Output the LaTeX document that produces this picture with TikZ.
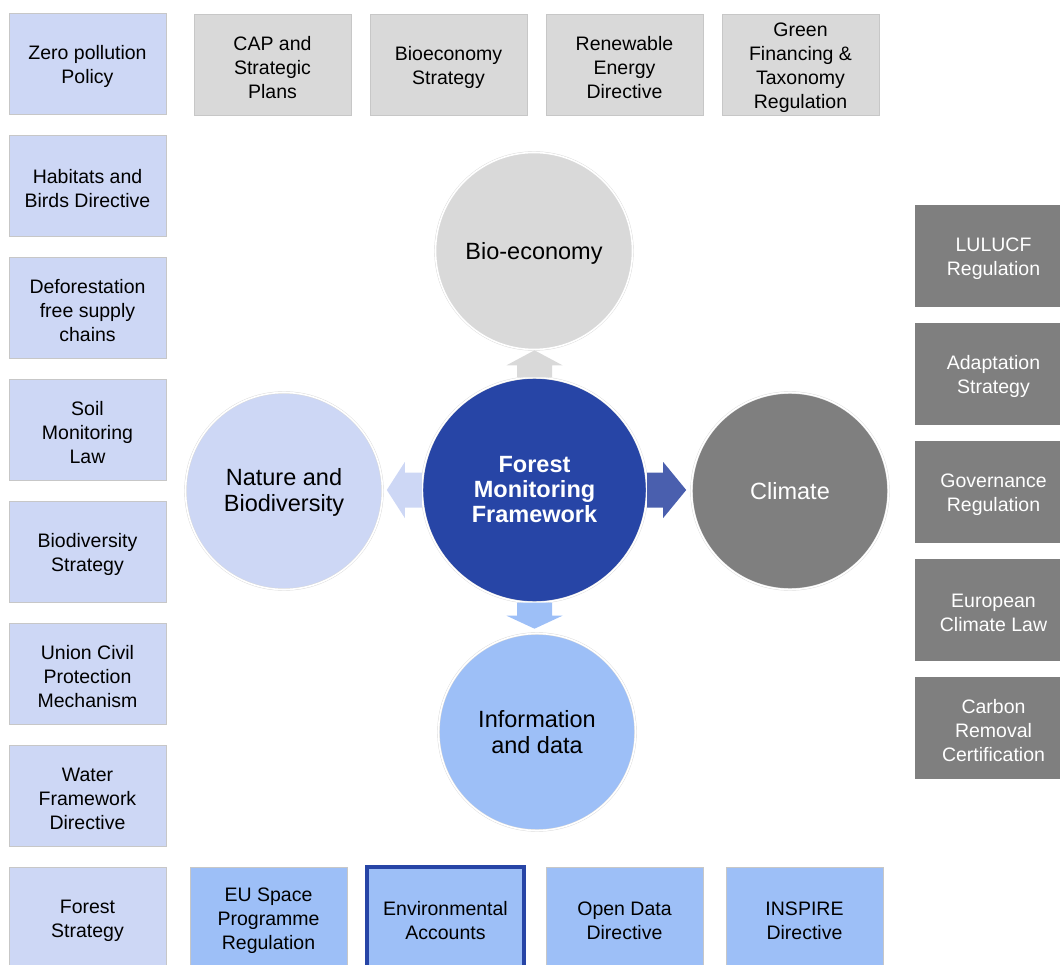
\documentclass[tikz,border=0pt]{standalone}
\usepackage{fontspec}
\setmainfont{Liberation Sans}

\definecolor{paleblue}{HTML}{CDD7F5}
\definecolor{skyblue}{HTML}{9DBFF7}
\definecolor{royalblue}{HTML}{2745A6}
\definecolor{arrowblue}{HTML}{4A5FAE}
\definecolor{palegrey}{HTML}{D9D9D9}
\definecolor{midgrey}{HTML}{7F7F7F}

% pushes the first line down a little
\newcommand{\tstrut}{\rule{0pt}{19.5pt}}

% block arrow: shaft length, head length, colour
\tikzset{
	pics/blockarrow/.style n args={3}{code={
		\fill[#3] (0,-17.5) -- (#1,-17.5) -- (#1,-28) -- (#1+#2,0)
			-- (#1,28) -- (#1,17.5) -- (0,17.5) -- cycle;
	}}
}

\begin{document}
\begin{tikzpicture}[x=1pt, y=-1pt,
	box/.style={draw=black!22, line width=0.6pt, minimum width=157pt,
		minimum height=101pt, inner sep=0pt, align=center,
		font=\fontsize{19.5}{24}\selectfont},
	hub/.style={circle, draw=black!15, double=white, double distance=1.6pt,
		minimum size=197pt, inner sep=0pt, align=center,
		font=\fontsize{23.5}{26.5}\selectfont}]
	\useasboundingbox (0,0) rectangle (1060,965);
	\clip (0,0) rectangle (1060,965);

	% nature and biodiversity column
	\node[box, fill=paleblue] (zero) at (87.5, 63.5) {\tstrut Zero pollution\\Policy};
	\node[box, fill=paleblue] (habitats) at (87.5, 185.5) {\tstrut Habitats and\\Birds Directive};
	\node[box, fill=paleblue] (deforest) at (87.5, 307.5) {\tstrut Deforestation\\free supply\\chains};
	\node[box, fill=paleblue] (soil) at (87.5, 429.5) {\tstrut Soil\\Monitoring\\Law};
	\node[box, fill=paleblue] (biodiv) at (87.5, 551.5) {\tstrut Biodiversity\\Strategy};
	\node[box, fill=paleblue] (civil) at (87.5, 673.5) {\tstrut Union Civil\\Protection\\Mechanism};
	\node[box, fill=paleblue] (water) at (87.5, 795.5) {\tstrut Water\\Framework\\Directive};
	\node[box, fill=paleblue] (forest) at (87.5, 917.5) {\tstrut Forest\\Strategy};

	% bio-economy row
	\node[box, fill=palegrey] (cap) at (272.5, 64.5) {\tstrut CAP and\\Strategic\\Plans};
	\node[box, fill=palegrey] (bioecon) at (448.5, 64.5) {\tstrut Bioeconomy\\Strategy};
	\node[box, fill=palegrey] (red) at (624.5, 64.5) {\tstrut Renewable\\Energy\\Directive};
	\node[box, fill=palegrey] (taxonomy) at (800.5, 64.5) {\tstrut Green\\Financing \&\\Taxonomy\\Regulation};

	% climate column
	\node[box, fill=midgrey, draw=midgrey, text=white] (lulucf) at (993.5, 255.5) {\tstrut LULUCF\\Regulation};
	\node[box, fill=midgrey, draw=midgrey, text=white] (adapt) at (993.5, 373.5) {\tstrut Adaptation\\Strategy};
	\node[box, fill=midgrey, draw=midgrey, text=white] (govern) at (993.5, 491.5) {\tstrut Governance\\Regulation};
	\node[box, fill=midgrey, draw=midgrey, text=white] (climlaw) at (993.5, 609.5) {\tstrut European\\Climate Law};
	\node[box, fill=midgrey, draw=midgrey, text=white] (carbon) at (993.5, 727.5) {\tstrut Carbon\\Removal\\Certification};

	% information and data row
	\node[box, fill=skyblue] (space) at (268.5, 917.5) {\tstrut EU Space\\Programme\\Regulation};
	\node[box, fill=skyblue, draw=royalblue, line width=4pt] (accounts) at (445.5, 917.5) {\tstrut Environmental\\Accounts};
	\node[box, fill=skyblue] (opendata) at (624.5, 917.5) {\tstrut Open Data\\Directive};
	\node[box, fill=skyblue] (inspire) at (804.5, 917.5) {\tstrut INSPIRE\\Directive};

	% the five circles
	\node[hub, fill=palegrey] (bio) at (534, 251) {\rule{0pt}{22pt}Bio-economy};
	\node[hub, fill=paleblue] (nature) at (284, 491) {\rule{0pt}{19.5pt}Nature and\\Biodiversity};
	\node[hub, fill=midgrey, text=white] (climate) at (790, 491) {Climate};
	\node[hub, fill=skyblue] (info) at (537, 732) {Information\\and data};
	\node[hub, fill=royalblue, text=white, minimum size=225pt,
		font=\fontsize{23.5}{25}\selectfont\bfseries] (fmf) at (534.5, 490) {Forest\\Monitoring\\Framework};

	% arrows out of the framework
	\pic[rotate=90] at (fmf.north) {blockarrow={12}{15}{palegrey}};
	\pic[rotate=180] at (fmf.west) {blockarrow={17}{18}{paleblue}};
	\pic at (fmf.east) {blockarrow={16}{23}{arrowblue}};
	\pic[rotate=-90] at (fmf.south) {blockarrow={13}{13}{skyblue}};
\end{tikzpicture}
\end{document}
